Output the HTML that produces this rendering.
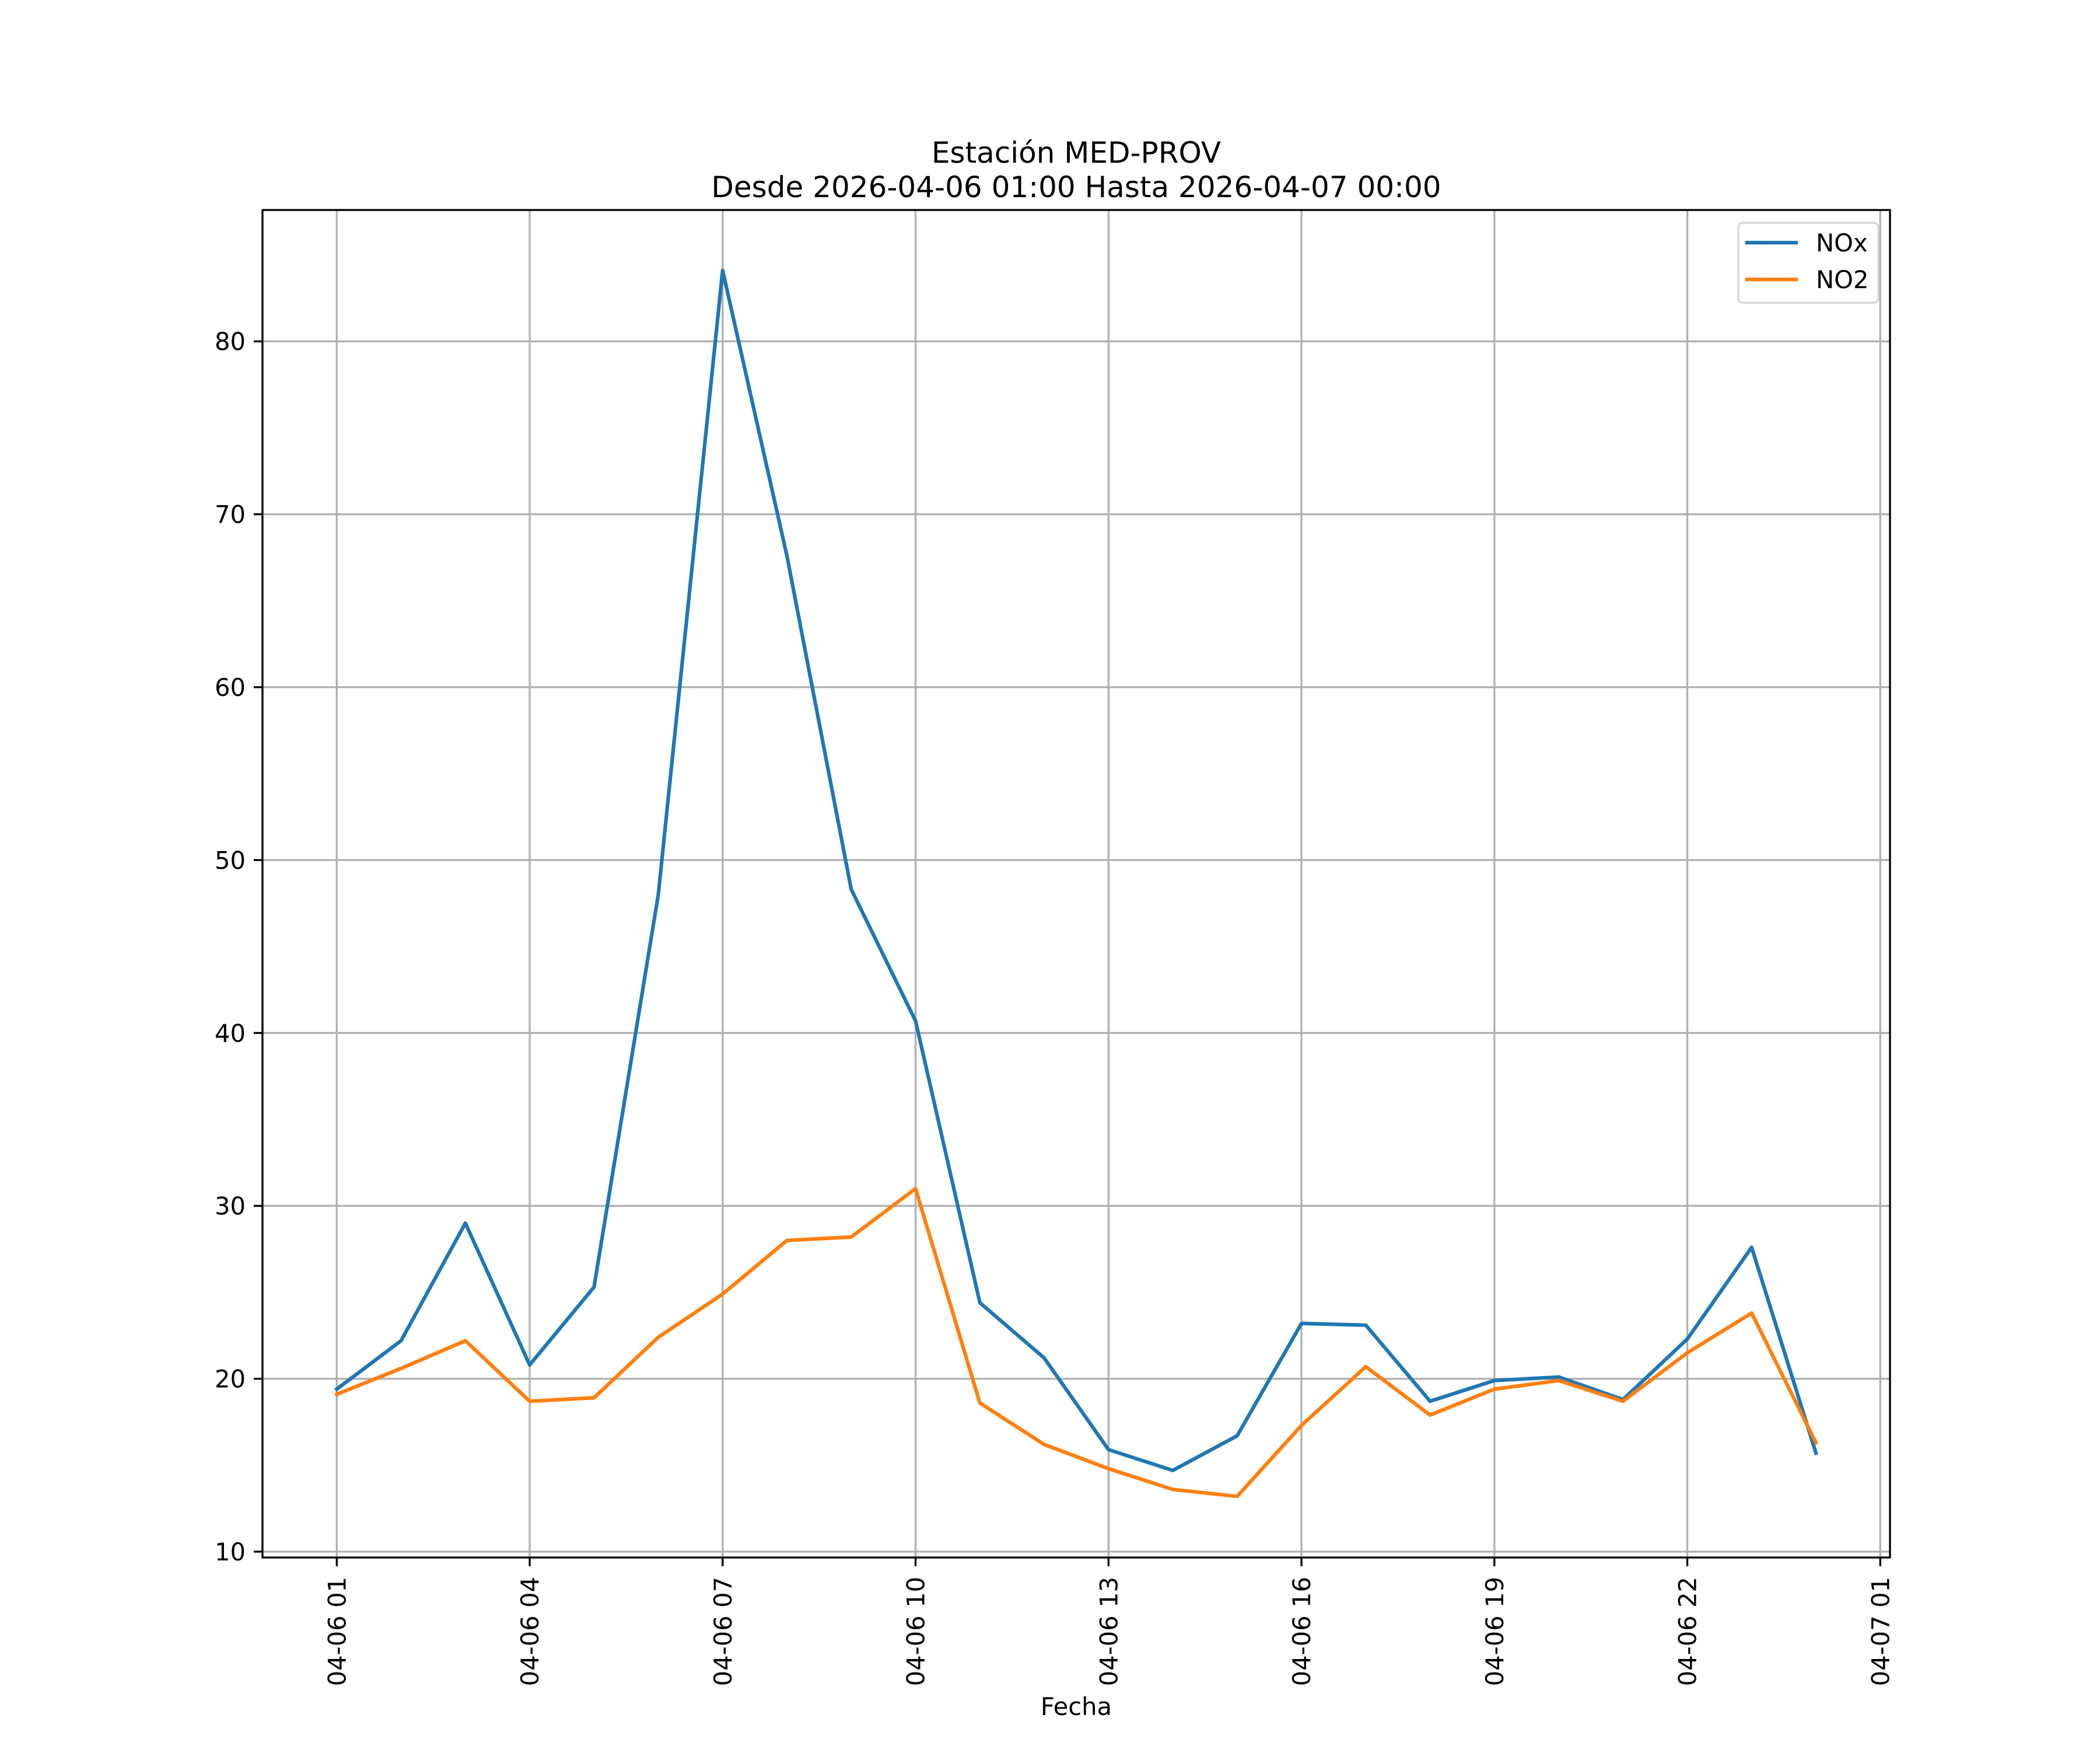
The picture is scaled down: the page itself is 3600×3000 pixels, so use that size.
<!DOCTYPE html>
<html><head><meta charset="utf-8"><style>
html,body{margin:0;padding:0;background:#fff;}
svg{display:block;font-family:"DejaVu Sans","Liberation Sans",sans-serif;}
</style></head><body>
<svg id="chart" width="3600" height="3000" viewBox="0 0 3600 3000" xmlns="http://www.w3.org/2000/svg">
<rect width="3600" height="3000" fill="#fff"/>
<text x="1845" y="279" font-size="50" text-anchor="middle">Estación MED-PROV</text>
<text x="1845" y="338" font-size="50" text-anchor="middle">Desde 2026-04-06 01:00 Hasta 2026-04-07 00:00</text>
<g id="grid"></g>
<g id="series"></g>
<rect x="450" y="360" width="2790" height="2310" fill="none" stroke="#000" stroke-width="3.3"/>
<g id="ticks"></g>
<text x="1845" y="2940" font-size="41.7" text-anchor="middle">Fecha</text>
<g>
<rect x="2980" y="382" width="240" height="137" rx="8" fill="#fff" fill-opacity="0.8" stroke="#d6d6d6" stroke-width="3.3"/>
<line x1="2992" y1="416" x2="3082" y2="416" stroke="#1f77b4" stroke-width="6.25"/>
<text x="3113" y="431" font-size="41.7">NOx</text>
<line x1="2992" y1="479" x2="3082" y2="479" stroke="#ff7f0e" stroke-width="6.25"/>
<text x="3113" y="494" font-size="41.7">NO2</text>
</g>
</svg>
<script>
const hours = [1,2,3,4,5,6,7,8,9,10,11,12,13,14,15,16,17,18,19,20,21,22,23,24];
const noxValues = [19.4,22.2,29.0,20.8,25.3,48.0,84.1,67.6,48.3,40.7,24.4,21.2,15.9,14.7,16.7,23.2,23.1,18.7,19.9,20.1,18.8,22.3,27.6,15.7];
const no2Values = [19.1,20.6,22.2,18.7,18.9,22.4,24.9,28.0,28.2,31.0,18.6,16.2,14.8,13.6,13.2,17.3,20.7,17.9,19.4,19.9,18.7,21.5,23.8,16.3];
const xTickHours = [1,4,7,10,13,16,19,22,25];
const xTickLabels = ["04-06 01","04-06 04","04-06 07","04-06 10","04-06 13","04-06 16","04-06 19","04-06 22","04-07 01"];
const yTicks = [10,20,30,40,50,60,70,80];

const NS = "http://www.w3.org/2000/svg";
function xs(h){ return 577.3 + (h - 1) * 110.25; }
function ys(v){ return 2660 - (v - 10) * 29.64; }
function mk(tag, attrs, parent){
  const e = document.createElementNS(NS, tag);
  for (const k in attrs) e.setAttribute(k, attrs[k]);
  parent.appendChild(e);
  return e;
}
const grid = document.getElementById('grid');
const ticks = document.getElementById('ticks');
const series = document.getElementById('series');

xTickHours.forEach((h, i) => {
  const x = xs(h);
  const g = mk('line', {x1:x, y1:360, x2:x, y2:2670, stroke:'#b0b0b0', 'stroke-width':3.3}, grid);
  
  
  const t = mk('line', {x1:x, y1:2670, x2:x, y2:2685, stroke:'#000', 'stroke-width':3.3}, ticks);
  
  
  const lb = mk('text', {x:0, y:0, 'font-size':41.7, 'text-anchor':'end', transform:'translate(' + (x + 15) + ',2703) rotate(-90)'}, ticks);
  lb.textContent = xTickLabels[i];
  
  
});
yTicks.forEach(v => {
  const y = ys(v);
  const g = mk('line', {x1:450, y1:y, x2:3240, y2:y, stroke:'#b0b0b0', 'stroke-width':3.3}, grid);
  
  
  const t = mk('line', {x1:435, y1:y, x2:450, y2:y, stroke:'#000', 'stroke-width':3.3}, ticks);
  
  
  const lb = mk('text', {x:421, y:y + 15, 'font-size':41.7, 'text-anchor':'end'}, ticks);
  lb.textContent = String(v);
  
  
});
function drawLine(vals, color, name){
  const pts = vals.map((v, i) => xs(hours[i]).toFixed(1) + ',' + ys(v).toFixed(1)).join(' ');
  const p = mk('polyline', {points:pts, fill:'none', stroke:color, 'stroke-width':6.25, 'stroke-linejoin':'round', 'stroke-linecap':'square'}, series);
  
  
}
drawLine(noxValues, '#1f77b4', 'nox-line');
drawLine(no2Values, '#ff7f0e', 'no2-line');
</script>
</body></html>
